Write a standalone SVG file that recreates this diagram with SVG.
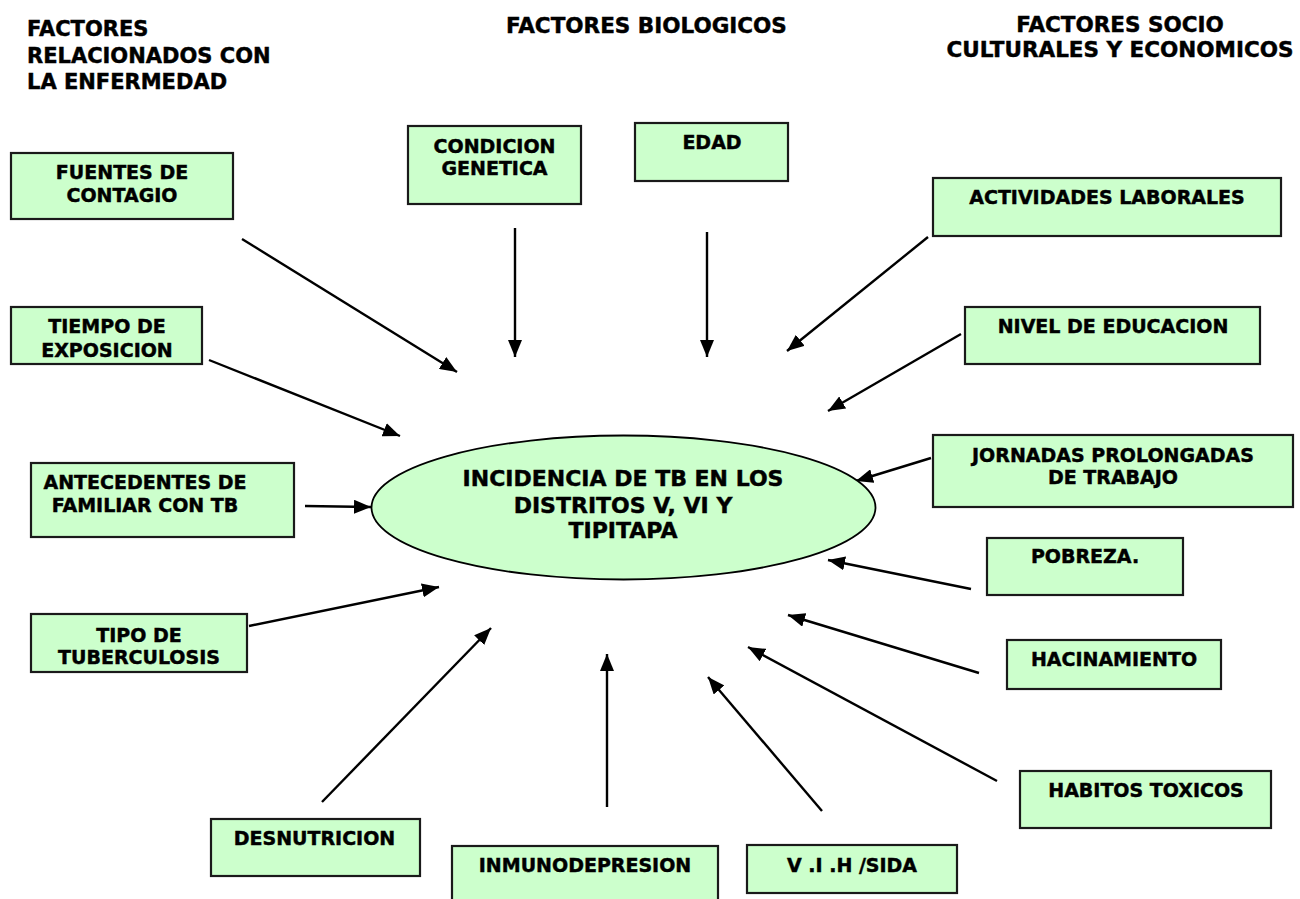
<svg xmlns="http://www.w3.org/2000/svg" width="1300" height="899" viewBox="0 0 1300 899">
<defs>
<style>
text{font-family:"DejaVu Sans",Verdana,"Liberation Sans",sans-serif;font-weight:bold;fill:#000;stroke:#000;stroke-width:0.45px}
.h{font-size:21.5px}
.b{font-size:19px;text-anchor:middle}
.e{font-size:22px;text-anchor:middle}
.box{fill:#ccffcc;stroke:#1a1a1a;stroke-width:2.2}
.c line{stroke:#000;stroke-width:2.4;marker-end:url(#ah)}
</style>
<marker id="ah" markerUnits="userSpaceOnUse" markerWidth="17" markerHeight="14" refX="17" refY="7" orient="auto">
<path d="M0,0 L17,7 L0,14 z" fill="#000"/>
</marker>
</defs>
<rect width="1300" height="899" fill="#fff"/>

<g id="headers">
<text class="h" x="27" y="36" style="font-size:21px">FACTORES</text>
<text class="h" x="27" y="63" style="font-size:21px">RELACIONADOS CON</text>
<text class="h" x="27" y="89" style="font-size:21px">LA ENFERMEDAD</text>
<text class="h" x="506" y="33">FACTORES BIOLOGICOS</text>
<text class="h" x="1120" y="32" text-anchor="middle">FACTORES SOCIO</text>
<text class="h" x="1120" y="57" text-anchor="middle">CULTURALES Y ECONOMICOS</text>
</g>

<g class="c" id="connectors">
<line x1="242" y1="239" x2="457" y2="372"/>
<line x1="209" y1="360" x2="400" y2="436"/>
<line x1="305" y1="506" x2="371" y2="507"/>
<line x1="249" y1="626" x2="439" y2="587"/>
<line x1="322" y1="802" x2="491" y2="628"/>
<line x1="607" y1="807" x2="607" y2="654"/>
<line x1="822" y1="811" x2="708" y2="677"/>
<line x1="997" y1="781" x2="748" y2="647"/>
<line x1="979" y1="673" x2="788" y2="615"/>
<line x1="971" y1="589" x2="828" y2="560"/>
<line x1="931" y1="458" x2="856" y2="481"/>
<line x1="961" y1="334" x2="828" y2="411"/>
<line x1="928" y1="237" x2="787" y2="351"/>
<line x1="707" y1="232" x2="707" y2="357"/>
<line x1="515" y1="228" x2="515" y2="357"/>
</g>

<g id="center">
<ellipse cx="623.5" cy="507.5" rx="252" ry="72" fill="#ccffcc" stroke="#000" stroke-width="1.8"/>
<text class="e" x="623" y="486">INCIDENCIA DE TB EN LOS</text>
<text class="e" x="623" y="513">DISTRITOS V, VI Y</text>
<text class="e" x="623" y="538">TIPITAPA</text>
</g>

<g id="fuentes">
<rect class="box" x="11" y="153" width="222" height="66"/>
<text class="b" x="122" y="179">FUENTES DE</text>
<text class="b" x="122" y="202">CONTAGIO</text>
</g>
<g id="tiempo">
<rect class="box" x="11" y="307" width="191" height="57"/>
<text class="b" x="107" y="333">TIEMPO DE</text>
<text class="b" x="107" y="357">EXPOSICION</text>
</g>
<g id="antecedentes">
<rect class="box" x="31" y="463" width="263" height="74"/>
<text class="b" x="145" y="489">ANTECEDENTES DE</text>
<text class="b" x="145" y="512">FAMILIAR CON TB</text>
</g>
<g id="tipo">
<rect class="box" x="31" y="614" width="216" height="58"/>
<text class="b" x="139" y="642">TIPO DE</text>
<text class="b" x="139" y="664">TUBERCULOSIS</text>
</g>
<g id="desnutricion">
<rect class="box" x="211" y="819" width="209" height="57"/>
<text class="b" x="314.5" y="845">DESNUTRICION</text>
</g>
<g id="inmunodepresion">
<rect class="box" x="452" y="846" width="266" height="62"/>
<text class="b" x="585" y="872">INMUNODEPRESION</text>
</g>
<g id="vih">
<rect class="box" x="747" y="845" width="210" height="48"/>
<text class="b" x="852" y="872">V .I .H /SIDA</text>
</g>
<g id="condicion">
<rect class="box" x="408" y="126" width="173" height="78"/>
<text class="b" x="494.5" y="153">CONDICION</text>
<text class="b" x="494.5" y="175">GENETICA</text>
</g>
<g id="edad">
<rect class="box" x="635" y="123" width="153" height="58"/>
<text class="b" x="712" y="149">EDAD</text>
</g>
<g id="actividades">
<rect class="box" x="933" y="178" width="348" height="58"/>
<text class="b" x="1107" y="204">ACTIVIDADES LABORALES</text>
</g>
<g id="nivel">
<rect class="box" x="965" y="307" width="295" height="57"/>
<text class="b" x="1113" y="333">NIVEL DE EDUCACION</text>
</g>
<g id="jornadas">
<rect class="box" x="933" y="435" width="360" height="72"/>
<text class="b" x="1113" y="462">JORNADAS PROLONGADAS</text>
<text class="b" x="1113" y="484">DE TRABAJO</text>
</g>
<g id="pobreza">
<rect class="box" x="987" y="538" width="196" height="57"/>
<text class="b" x="1085" y="563">POBREZA.</text>
</g>
<g id="hacinamiento">
<rect class="box" x="1007" y="640" width="214" height="49"/>
<text class="b" x="1114" y="666">HACINAMIENTO</text>
</g>
<g id="habitos">
<rect class="box" x="1020" y="771" width="251" height="57"/>
<text class="b" x="1146" y="797">HABITOS TOXICOS</text>
</g>
</svg>
